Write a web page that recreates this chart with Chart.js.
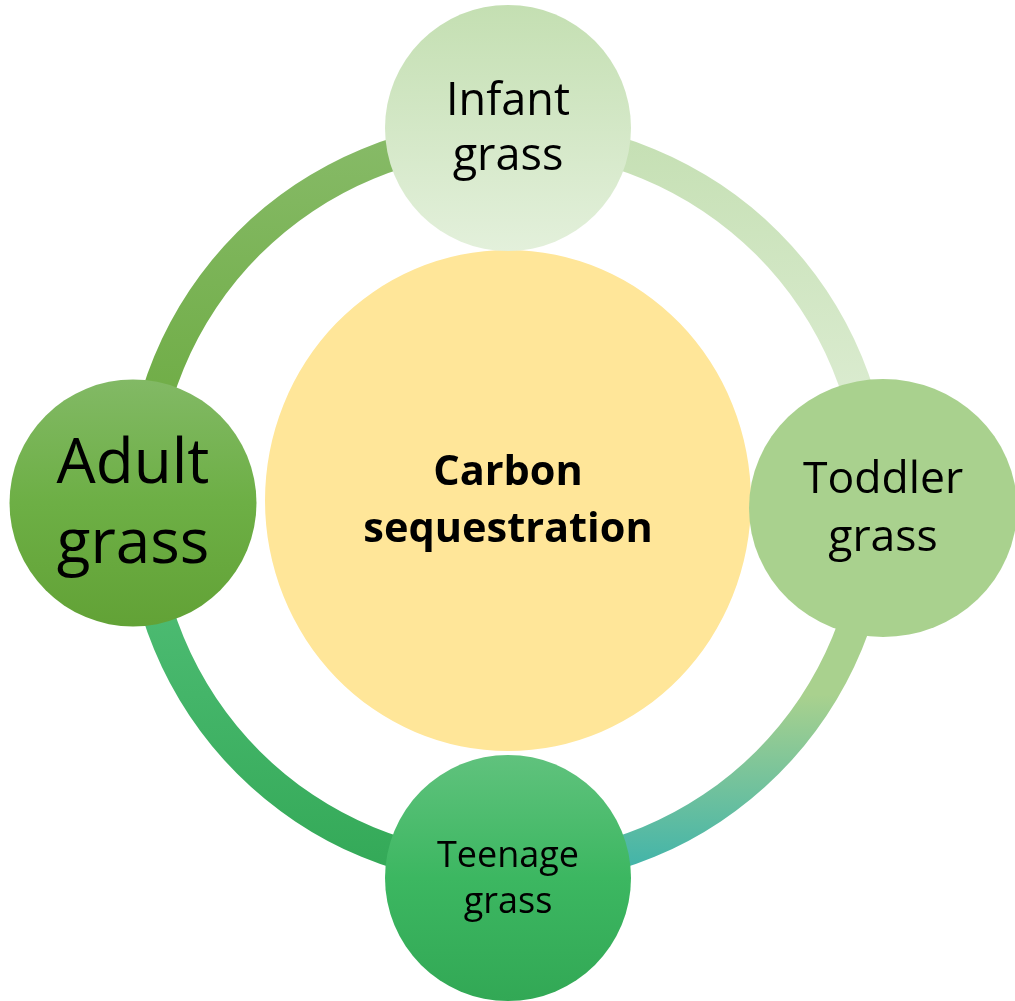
<!DOCTYPE html>
<html>
<head>
<meta charset="utf-8">
<script src="https://cdn.jsdelivr.net/npm/chart.js@4.4.1/dist/chart.umd.min.js"></script>
<style>
html,body{margin:0;padding:0;background:#ffffff;overflow:hidden;}
canvas{display:block;}
</style>
</head>
<body>
<canvas id="c" width="1015" height="1001"></canvas>
<script>
// ---- data ----
const stages = ['Infant grass', 'Toddler grass', 'Teenage grass', 'Adult grass'];
const stageLines = [['Infant', 'grass'], ['Toddler', 'grass'], ['Teenage', 'grass'], ['Adult', 'grass']];
const centerLabel = ['Carbon', 'sequestration'];
const cycleShare = [1, 1, 1, 1];   // each step of the cycle is one equal quarter
const centerShare = [1];
const gapShare = [1];

// ---- styles ----
const ringStops = [
  [[0, '#c4dfb2'], [1, '#e3f0db']],
  [[0, '#a9d18e'], [0.5, '#a9d18e'], [1, '#37b1ac']],
  [[0, '#56c27c'], [1, '#32a856']],
  [[0, '#88bb69'], [1, '#67a83a']]
];
const circleStyles = [
  {rx: 123, ry: 123, dy: 0, stops: [[0, '#c4dfb2'], [1, '#e3f0db']], size: 45, lh: 55},
  {rx: 134, ry: 129, dy: 5, stops: [[0, '#a9d18e'], [1, '#a9d18e']], size: 44.5, lh: 58},
  {rx: 123, ry: 123, dy: 0, stops: [[0, '#60c27d'], [0.5, '#3cb761'], [1, '#32a855']], size: 36, lh: 46},
  {rx: 123.5, ry: 123.5, dy: 0, stops: [[0, '#82b965'], [0.5, '#6daf45'], [1, '#62a236']], size: 62, lh: 80}
];
const centerStyle = {color: '#ffe699', size: 41.5, lh: 57, scaleY: 250.5 / 243, shiftY: -2.5};
const FONT = '"Open Sans", "Noto Sans", sans-serif';

function ringColor(context) {
  const chart = context.chart;
  const ca = chart.chartArea;
  const stops = ringStops[context.dataIndex];
  if (!ca) return stops[0][1];
  const cy = (ca.top + ca.bottom) / 2;
  const R = Math.min(ca.width, ca.height) / 2;
  const i = context.dataIndex;
  const y0 = (i === 0 || i === 3) ? cy - R : cy;
  const y1 = (i === 0 || i === 3) ? cy : cy + R;
  const g = chart.ctx.createLinearGradient(0, y0, 0, y1);
  stops.forEach(s => g.addColorStop(s[0], s[1]));
  return g;
}

const overlay = {
  id: 'overlay',
  beforeDatasetDraw(chart, args) {
    if (args.index !== 2) return;
    const arc = chart.getDatasetMeta(2).data[0];
    const ctx = chart.ctx;
    ctx.save();
    ctx.translate(arc.x, arc.y + centerStyle.shiftY);
    ctx.scale(1, centerStyle.scaleY);
    ctx.translate(-arc.x, -arc.y);
  },
  afterDatasetDraw(chart, args) {
    if (args.index !== 2) return;
    chart.ctx.restore();
  },
  afterDatasetsDraw(chart) {
    const ctx = chart.ctx;
    const ring = chart.getDatasetMeta(0).data;
    // small stage circles at the start of each cycle step
    ring.forEach((arc, i) => {
      const st = circleStyles[i];
      const r = arc.outerRadius - 8;
      const cx = arc.x + Math.cos(arc.startAngle) * r;
      const cy = arc.y + Math.sin(arc.startAngle) * r + st.dy;
      const g = ctx.createLinearGradient(0, cy - st.ry, 0, cy + st.ry);
      st.stops.forEach(s => g.addColorStop(s[0], s[1]));
      ctx.save();
      ctx.beginPath();
      ctx.ellipse(cx, cy, st.rx, st.ry, 0, 0, Math.PI * 2);
      ctx.fillStyle = g;
      ctx.fill();
      ctx.fillStyle = '#000000';
      ctx.font = st.size + 'px ' + FONT;
      ctx.textAlign = 'center';
      ctx.textBaseline = 'alphabetic';
      const lines = stageLines[i];
      const base = cy + 0.32 * st.size - st.lh * (lines.length - 1) / 2;
      lines.forEach((t, k) => ctx.fillText(t, cx, base + k * st.lh));
      ctx.restore();
    });
    // center label
    const c = chart.getDatasetMeta(2).data[0];
    const ccy = c.y + centerStyle.shiftY;
    ctx.save();
    ctx.fillStyle = '#000000';
    ctx.font = 'bold ' + centerStyle.size + 'px ' + FONT;
    ctx.textAlign = 'center';
    ctx.textBaseline = 'alphabetic';
    const base = ccy + 0.32 * centerStyle.size - centerStyle.lh * (centerLabel.length - 1) / 2;
    centerLabel.forEach((t, k) => ctx.fillText(t, c.x, base + k * centerStyle.lh));
    ctx.restore();
  }
};

function build() {
  new Chart(document.getElementById('c'), {
    type: 'doughnut',
    data: {
      labels: stages,
      datasets: [
        {label: 'cycle', data: cycleShare, backgroundColor: ringColor, borderWidth: 0, weight: 32},
        {label: 'gap', data: gapShare, backgroundColor: 'rgba(0,0,0,0)', borderWidth: 0, weight: 108},
        {label: 'center', data: centerShare, backgroundColor: centerStyle.color, borderWidth: 0, weight: 243}
      ]
    },
    options: {
      responsive: false,
      maintainAspectRatio: false,
      animation: false,
      events: [],
      cutout: 0,
      rotation: 0,
      layout: {padding: {left: 125, right: 124, top: 120, bottom: 115}},
      plugins: {legend: {display: false}, tooltip: {enabled: false}}
    },
    plugins: [overlay]
  });
}

Promise.all([
  document.fonts.load('45px "Open Sans"'),
  document.fonts.load('bold 40px "Open Sans"')
]).then(build, build);
</script>
</body>
</html>
